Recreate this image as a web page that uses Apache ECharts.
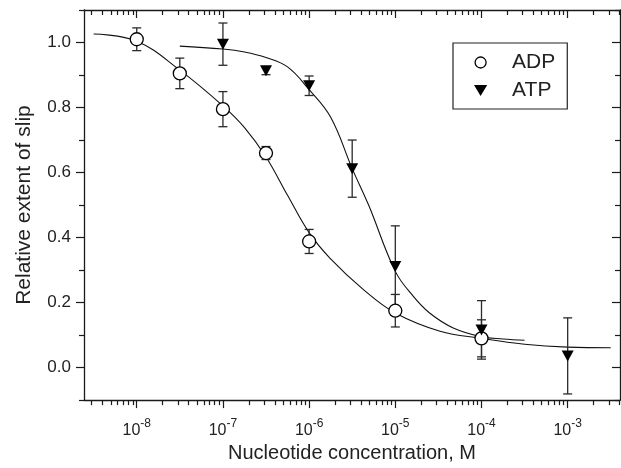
<!DOCTYPE html>
<html><head><meta charset="utf-8">
<script src="https://cdn.jsdelivr.net/npm/echarts@6/dist/echarts.min.js"></script>
<style>html,body{margin:0;padding:0;background:#fff}#c{width:621px;height:468px}</style>
</head><body><div id="c"></div>
<script>
// ---- data (concentration in M, relative extent of slip) ----
const adpConc = [1e-8, 3.16e-8, 1e-7, 3.16e-7, 1e-6, 1e-5, 1e-4];
const adpVal  = [1.010, 0.905, 0.795, 0.660, 0.388, 0.175, 0.090];
const adpErr  = [0.035, 0.047, 0.054, 0.020, 0.037, 0.050, 0.057];
const atpConc = [1e-7, 3.16e-7, 1e-6, 3.16e-6, 1e-5, 1e-4, 1e-3];
const atpVal  = [0.995, 0.913, 0.867, 0.612, 0.311, 0.116, 0.036];
const atpErr  = [0.065, 0.012, 0.030, 0.088, 0.125, 0.090, 0.117];
// fitted curves, points
const adpFitConc = [3.16e-9, 1e-8, 3.16e-8, 1e-7, 1.78e-7, 3.16e-7, 5.62e-7, 1e-6, 1.74e-6, 4.27e-6, 1e-5, 3.3e-5, 1e-4, 3.16e-4, 1e-3, 3.16e-3];
const adpFitVal  = [1.026, 1.004, 0.915, 0.805, 0.738, 0.648, 0.530, 0.415, 0.337, 0.240, 0.168, 0.112, 0.090, 0.072, 0.063, 0.061];
const atpFitConc = [3.16e-8, 1e-7, 1.78e-7, 3.16e-7, 5.62e-7, 1e-6, 1.78e-6, 3.16e-6, 4.9e-6, 1e-5, 1.62e-5, 2.5e-5, 4.7e-5, 1e-4, 1.78e-4, 3.16e-4];
const atpFitVal  = [0.989, 0.980, 0.971, 0.954, 0.925, 0.855, 0.770, 0.612, 0.500, 0.296, 0.219, 0.168, 0.122, 0.095, 0.088, 0.084];
// axes
const xMinExp = -8.612, xMaxExp = -2.393;
const xMajorExp = [-8, -7, -6, -5, -4, -3];
const xMinorMult = [2, 3, 4, 5, 6, 7, 8, 9];
const yMajor = [0.0, 0.2, 0.4, 0.6, 0.8, 1.0];
const yMinor = [-0.1, 0.1, 0.3, 0.5, 0.7, 0.9, 1.1];

const L = Math.log10;
const xMinor = [];
for (let n = -9; n <= -3; n++) for (const k of xMinorMult) xMinor.push(L(k * Math.pow(10, n)));

const FONT = 'Liberation Sans, Arial, sans-serif';
const lineCol = '#1a1a1a';

function xAx(pos, ticks, len, showLabel, showLine) {
  return {
    type: 'value', position: pos, min: xMinExp, max: xMaxExp, gridIndex: 0,
    axisLine: { show: showLine, onZero: false, lineStyle: { color: lineCol, width: 1.3 } },
    axisTick: { show: true, customValues: ticks, length: len, inside: pos === 'top', lineStyle: { color: lineCol, width: 1.2 } },
    axisLabel: showLabel ? {
      customValues: xMajorExp, margin: 18,
      formatter: v => '{a|10}{b|' + Math.round(v) + '}',
      rich: {
        a: { fontFamily: FONT, fontSize: 16, color: '#222', lineHeight: 20, verticalAlign: 'bottom' },
        b: { fontFamily: FONT, fontSize: 12, color: '#222', lineHeight: 10, verticalAlign: 'top' }
      }
    } : { show: false },
    splitLine: { show: false }
  };
}
function yAx(pos, ticks, len, showLabel, showLine) {
  return {
    type: 'value', position: pos, min: -0.1, max: 1.1, gridIndex: 0,
    axisLine: { show: showLine, onZero: false, lineStyle: { color: lineCol, width: 1.3 } },
    axisTick: { show: true, customValues: ticks, length: len, inside: pos === 'right', lineStyle: { color: lineCol, width: 1.2 } },
    axisLabel: showLabel ? {
      customValues: yMajor, margin: 13, formatter: v => v.toFixed(1),
      fontFamily: FONT, fontSize: 17, color: '#222'
    } : { show: false },
    splitLine: { show: false }
  };
}

const xAxes = [xAx('bottom', xMajorExp, 8, true, true), xAx('bottom', xMinor, 5, false, false),
               xAx('top', xMajorExp, 8, false, true), xAx('top', xMinor, 5, false, false)];
xAxes[0].name = 'Nucleotide concentration, M';
xAxes[0].nameLocation = 'middle';
xAxes[0].nameGap = 39;
xAxes[0].nameTextStyle = { fontFamily: FONT, fontSize: 20, color: '#222' };
const yAxes = [yAx('left', yMajor, 8, true, true), yAx('left', yMinor, 5, false, false),
               yAx('right', yMajor, 8, false, true), yAx('right', yMinor, 5, false, false)];
yAxes[0].name = 'Relative extent of slip';
yAxes[0].nameLocation = 'middle';
yAxes[0].nameGap = 49;
yAxes[0].nameTextStyle = { fontFamily: FONT, fontSize: 21, color: '#222' };

function errSeries(conc, val, err) {
  return {
    type: 'custom', xAxisIndex: 0, yAxisIndex: 0, z: 2, silent: true,
    data: conc.map((c, i) => [L(c), val[i] - err[i], val[i] + err[i]]),
    renderItem(params, api) {
      const x = api.value(0);
      const lo = api.coord([x, api.value(1)]);
      const hi = api.coord([x, api.value(2)]);
      const w = 4.5, st = { stroke: '#2a2a2a', lineWidth: 1.3 };
      return { type: 'group', children: [
        { type: 'line', shape: { x1: lo[0], y1: lo[1], x2: hi[0], y2: hi[1] }, style: st },
        { type: 'line', shape: { x1: lo[0] - w, y1: lo[1], x2: lo[0] + w, y2: lo[1] }, style: st },
        { type: 'line', shape: { x1: hi[0] - w, y1: hi[1], x2: hi[0] + w, y2: hi[1] }, style: st }
      ]};
    }
  };
}

const chart = echarts.init(document.getElementById('c'), null, { renderer: 'canvas' });
chart.setOption({
  animation: false,
  backgroundColor: '#fff',
  textStyle: { fontFamily: FONT },
  grid: { left: 84, right: 1, top: 10, bottom: 66, containLabel: false },
  xAxis: xAxes,
  yAxis: yAxes,
  legend: {
    orient: 'vertical', left: 453, top: 43,
    padding: [9, 12, 8, 21], itemGap: 7, itemWidth: 53, itemHeight: 11,
    borderColor: '#222', borderWidth: 1.2,
    textStyle: { fontFamily: FONT, fontSize: 21, color: '#222', lineHeight: 20 },
    data: [
      { name: 'ADP', icon: 'circle', itemStyle: { color: '#fff', borderColor: '#000', borderWidth: 1.3 } },
      { name: 'ATP', icon: 'path://M0,0L12,0L6,10Z', itemStyle: { color: '#000', borderWidth: 0 } }
    ]
  },
  series: [
    { type: 'line', data: adpFitConc.map((c, i) => [L(c), adpFitVal[i]]), smooth: 0.4, showSymbol: false,
      lineStyle: { color: '#111', width: 1.1 }, z: 1, silent: true },
    { type: 'line', data: atpFitConc.map((c, i) => [L(c), atpFitVal[i]]), smooth: 0.4, showSymbol: false,
      lineStyle: { color: '#111', width: 1.1 }, z: 1, silent: true },
    errSeries(adpConc, adpVal, adpErr),
    errSeries(atpConc, atpVal, atpErr),
    { name: 'ADP', type: 'scatter', data: adpConc.map((c, i) => [L(c), adpVal[i]]), symbol: 'circle', symbolSize: 13,
      itemStyle: { color: '#fff', borderColor: '#000', borderWidth: 1.3, opacity: 1 }, z: 3 },
    { name: 'ATP', type: 'scatter', data: atpConc.map((c, i) => [L(c), atpVal[i]]), symbol: 'triangle', symbolRotate: 180,
      symbolSize: [12, 11], itemStyle: { color: '#000', opacity: 1 }, z: 3 }
  ]
});
</script></body></html>
